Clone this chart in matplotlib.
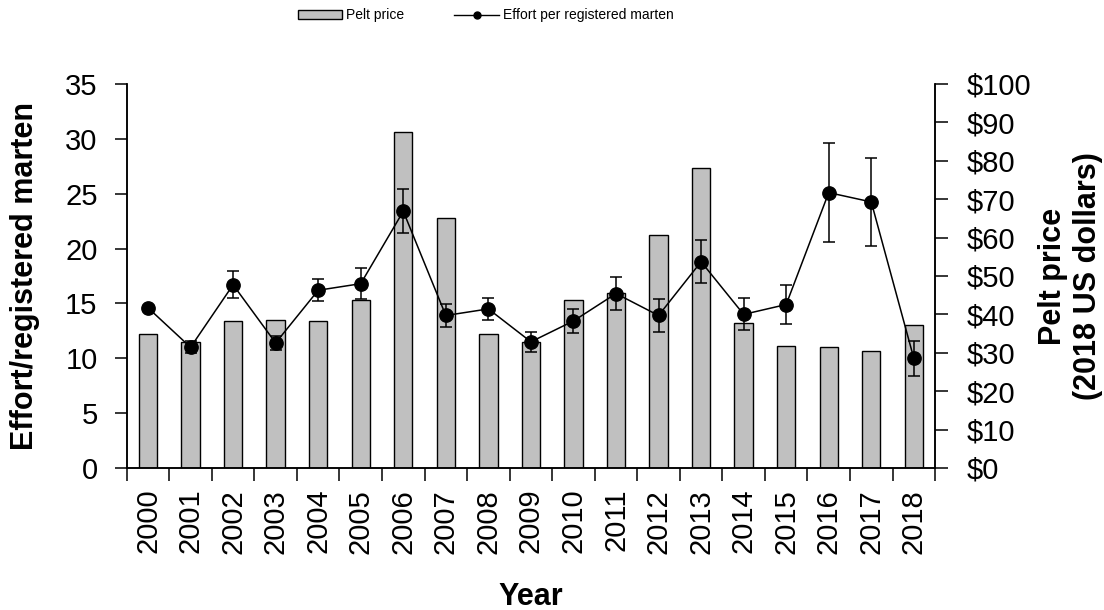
import numpy as np
import matplotlib
matplotlib.use("Agg")
import matplotlib.pyplot as plt
from matplotlib.lines import Line2D
from matplotlib.patches import Patch
from matplotlib.ticker import FuncFormatter, FixedLocator

plt.rcParams['font.family'] = ['Liberation Sans', 'DejaVu Sans']

years = [str(y) for y in range(2000, 2019)]
# pelt price, 2018 US dollars
pelt_price = [34.9, 32.9, 38.2, 38.6, 38.2, 43.8, 87.4, 65.0, 34.9, 32.9,
              43.8, 45.5, 60.6, 78.1, 37.8, 31.8, 31.4, 30.5, 37.3]
# effort per registered marten and its error
effort = [14.6, 11.0, 16.7, 11.4, 16.2, 16.8, 23.4, 13.9, 14.5, 11.5,
          13.4, 15.9, 13.9, 18.8, 14.0, 14.9, 25.1, 24.25, 10.0]
effort_err = [0.0, 0.55, 1.25, 0.66, 0.99, 1.41, 2.02, 1.07, 1.02, 0.93,
              1.06, 1.53, 1.53, 1.94, 1.46, 1.82, 4.54, 3.98, 1.6]

x = np.arange(len(years))

fig = plt.figure(figsize=(11.04, 6.10), dpi=100)
ax = fig.add_axes([0.1148, 0.2328, 0.7322, 0.6295])
ax2 = ax.twinx()

# bars on the right axis, line drawn over them
ax2.bar(x, pelt_price, width=0.43, color='#c0c0c0', edgecolor='black', linewidth=1.0)
ax.errorbar(x, effort, yerr=effort_err, color='black', marker='o', markersize=9.6,
            linewidth=1.1, elinewidth=1.1, capsize=4.2, capthick=1.1)
ax.set_zorder(ax2.get_zorder() + 1)
ax.patch.set_visible(False)

ax.set_xlim(-0.5, len(years) - 0.5)
ax.set_ylim(0, 35)
ax2.set_ylim(0, 100)
ax.set_yticks(np.arange(0, 36, 5))
ax2.set_yticks(np.arange(0, 101, 10))
ax2.yaxis.set_major_formatter(FuncFormatter(lambda v, p: f'${v:.0f}'))

ax.set_xticks(x)
ax.set_xticklabels(years, rotation=90)
ax.xaxis.set_minor_locator(FixedLocator(np.arange(-0.5, len(years), 1.0)))
ax.tick_params(axis='x', which='major', length=0, pad=15, labelsize=21)
ax.tick_params(axis='x', which='minor', length=9, width=1.1, direction='out')
ax.tick_params(axis='y', length=9, width=1.1, direction='out', pad=12, labelsize=21)
ax2.tick_params(axis='y', length=9, width=1.1, direction='out', pad=14, labelsize=21)

for a in (ax, ax2):
    a.spines['top'].set_visible(False)
    for s in ('left', 'right', 'bottom'):
        a.spines[s].set_linewidth(1.1)

ax.set_ylabel('Effort/registered marten', fontsize=22, fontweight='bold')
ax.yaxis.set_label_coords(-0.107, 0.5)
ax2.set_ylabel('Pelt price\n(2018 US dollars)', fontsize=22, fontweight='bold')
ax2.yaxis.set_label_coords(1.1274, 0.5)
ax.set_xlabel('Year', fontsize=22, fontweight='bold')
ax.xaxis.set_label_coords(0.5, -0.297)

handles = [Patch(facecolor='#c0c0c0', edgecolor='black', linewidth=1.0),
           Line2D([], [], color='black', marker='o', markersize=5, linewidth=1.0)]
fig.legend(handles, ['Pelt price', 'Effort per registered marten'],
           loc='center', bbox_to_anchor=(0.44, 0.975), ncol=2, frameon=False,
           fontsize=10, handlelength=3.2, handleheight=0.55, columnspacing=3.6,
           handletextpad=0.3)

fig.savefig('out.png', dpi=100)
